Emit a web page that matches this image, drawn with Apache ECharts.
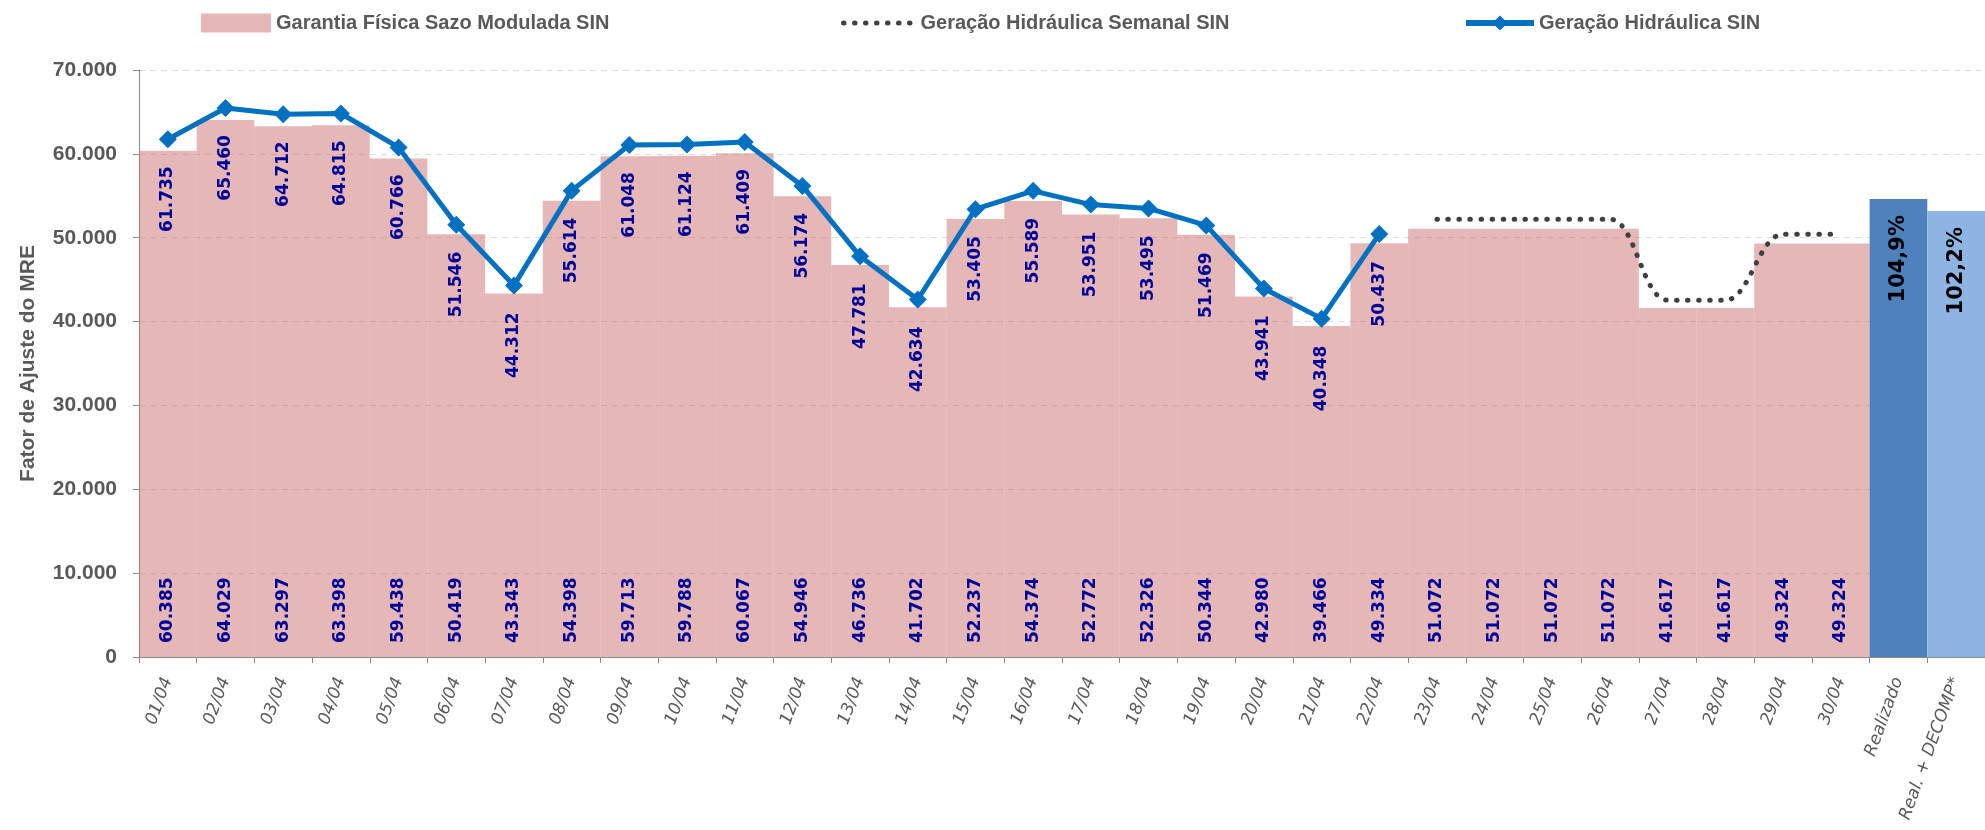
<!DOCTYPE html>
<html>
<head>
<meta charset="utf-8">
<script src="https://cdn.jsdelivr.net/npm/echarts@6/dist/echarts.min.js"></script>
<style>
  html, body { margin: 0; padding: 0; background: #ffffff; }
  #chart { width: 1985px; height: 830px; }
</style>
</head>
<body>
<div id="chart"></div>
<script>
// Daily categories plus the two monthly summary columns
const categories = [
  '01/04','02/04','03/04','04/04','05/04','06/04','07/04','08/04','09/04','10/04',
  '11/04','12/04','13/04','14/04','15/04','16/04','17/04','18/04','19/04','20/04',
  '21/04','22/04','23/04','24/04','25/04','26/04','27/04','28/04','29/04','30/04',
  'Realizado','Real. + DECOMP*'
];

// Garantia Física Sazo Modulada SIN (MWmed), one value per day
const garantiaFisica = [
  60385, 64029, 63297, 63398, 59438, 50419, 43343, 54398, 59713, 59788,
  60067, 54946, 46736, 41702, 52237, 54374, 52772, 52326, 50344, 42980,
  39466, 49334, 51072, 51072, 51072, 51072, 41617, 41617, 49324, 49324
];

// Geração Hidráulica SIN verified so far (01/04 to 22/04)
const geracaoHidraulica = [
  61735, 65460, 64712, 64815, 60766, 51546, 44312, 55614, 61048, 61124,
  61409, 56174, 47781, 42634, 53405, 55589, 53951, 53495, 51469, 43941,
  40348, 50437
];

// Weekly hydro generation forecast (23/04 to 30/04)
const geracaoSemanal = [52200, 52200, 52200, 52200, 42550, 42550, 50420, 50420];

// Monthly summary columns (MRE adjustment factor)
const resumoValores = [54617, 53186];
const resumoRotulos = ['104,9%', '102,2%'];

const resumoCores = ['#4F81BD', '#8EB4E3'];
const nDias = garantiaFisica.length;

const fmtMil = v => String(Math.round(v)).replace(/\B(?=(\d{3})+(?!\d))/g, '.');

const pad = (arr, before, total) => {
  const out = [];
  for (let i = 0; i < before; i++) out.push('-');
  arr.forEach(v => out.push(v));
  while (out.length < total) out.push('-');
  return out;
};

const total = categories.length;
const gfData = pad(garantiaFisica, 0, total);
const hidData = pad(geracaoHidraulica, 0, total);
const semData = pad(geracaoSemanal, geracaoHidraulica.length, total);
const resumoData = [];
for (let i = 0; i < nDias; i++) resumoData.push('-');
resumoValores.forEach((v, i) => resumoData.push({
  value: v,
  itemStyle: { color: resumoCores[i] },
  label: { formatter: resumoRotulos[i] }
}));

const grey = '#595959';
const legendText = { fontFamily: 'Liberation Sans', fontWeight: 'bold', fontSize: 20, color: grey };
const valueFont = { fontFamily: 'DejaVu Sans', fontWeight: 'bold', fontSize: 17, color: '#000099' };
const dotted = [0.5, 10.5];

const chart = echarts.init(document.getElementById('chart'), null, { renderer: 'canvas' });
chart.setOption({
  animation: false,
  backgroundColor: '#ffffff',
  legend: [
    { data: ['Garantia Física Sazo Modulada SIN'], left: 196, top: 8, itemWidth: 70, itemHeight: 19,
      icon: 'rect', textStyle: legendText, selectedMode: false },
    { data: ['Geração Hidráulica Semanal SIN'], left: 836, top: 8, itemWidth: 72, itemHeight: 19,
      textStyle: legendText, selectedMode: false,
      itemStyle: { opacity: 0 },
      lineStyle: { width: 5, type: dotted, cap: 'round', color: '#404040' } },
    { data: ['Geração Hidráulica SIN'], left: 1458, top: 8, itemWidth: 68, itemHeight: 19,
      textStyle: legendText, selectedMode: false,
      lineStyle: { width: 6, color: '#0070C0' } }
  ],
  grid: { left: 139, right: 0, top: 70, bottom: 173, containLabel: false },
  xAxis: {
    type: 'category',
    data: categories,
    boundaryGap: true,
    axisLine: { lineStyle: { color: '#888888', width: 1 } },
    axisTick: { show: true, length: 6, lineStyle: { color: '#888888' } },
    axisLabel: {
      interval: 0, rotate: 70, margin: 21,
      fontFamily: 'DejaVu Sans', fontStyle: 'italic', fontSize: 17, color: grey
    }
  },
  yAxis: {
    type: 'value',
    min: 0, max: 70000, interval: 10000,
    name: 'Fator de Ajuste do MRE',
    nameLocation: 'middle',
    nameGap: 100,
    nameTextStyle: { fontFamily: 'Liberation Sans', fontWeight: 'bold', fontSize: 21, color: grey },
    axisLine: { show: true, lineStyle: { color: '#888888', width: 1 } },
    axisTick: { show: true, length: 6, lineStyle: { color: '#888888' } },
    axisLabel: {
      margin: 22, formatter: v => fmtMil(v),
      fontFamily: 'Liberation Sans', fontWeight: 'bold', fontSize: 21, color: grey
    },
    splitLine: { show: true, lineStyle: { color: '#D9DEDE', type: [6, 5], width: 1 } }
  },
  series: [
    {
      name: 'Garantia Física Sazo Modulada SIN',
      type: 'bar',
      stack: 'col',
      data: gfData,
      barCategoryGap: '0%',
      itemStyle: { color: 'rgba(203,113,111,0.5)' },
      label: {
        show: true, position: 'insideBottom', distance: 14, rotate: 90,
        align: 'left', verticalAlign: 'middle',
        formatter: p => fmtMil(p.value),
        ...valueFont
      },
      z: 1
    },
    {
      name: 'Resumo',
      type: 'bar',
      stack: 'col',
      data: resumoData,
      barCategoryGap: '0%',
      label: {
        show: true, position: 'insideTop', distance: 16, rotate: 90,
        align: 'right', verticalAlign: 'middle',
        fontFamily: 'DejaVu Sans', fontWeight: 'bold', fontSize: 21, color: '#000000'
      },
      z: 1
    },
    {
      name: 'Geração Hidráulica Semanal SIN',
      type: 'line',
      data: semData,
      smooth: 0.35,
      symbol: 'none',
      lineStyle: { color: '#404040', width: 5, type: dotted, cap: 'round' },
      itemStyle: { color: '#404040' },
      z: 3
    },
    {
      name: 'Geração Hidráulica SIN',
      type: 'line',
      data: hidData,
      symbol: 'diamond',
      symbolSize: 18,
      lineStyle: { color: '#0070C0', width: 5 },
      itemStyle: { color: '#0070C0' },
      label: {
        show: true, position: 'bottom', distance: 18, rotate: 90,
        align: 'right', verticalAlign: 'middle',
        formatter: p => fmtMil(p.value),
        ...valueFont
      },
      z: 4
    }
  ]
});
</script>
</body>
</html>
